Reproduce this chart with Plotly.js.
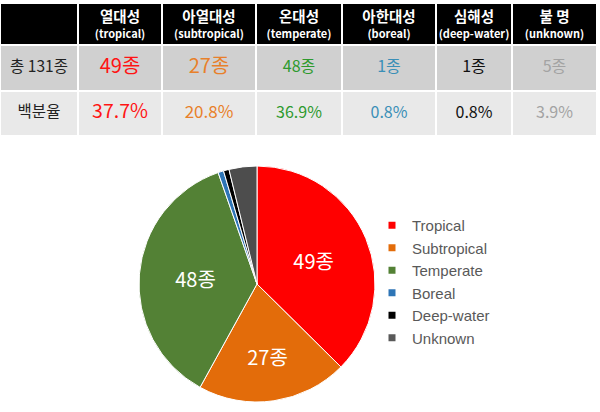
<!DOCTYPE html>
<html>
<head>
<meta charset="utf-8">
<script src="https://cdn.plot.ly/plotly-3.0.1.min.js"></script>
<style>html,body{margin:0;padding:0;background:#fff;}#chart{width:600px;height:412px;}</style>
</head>
<body>
<div id="chart"></div>
<script>
// ---- data ----
var categoriesKo = ['열대성', '아열대성', '온대성', '아한대성', '심해성', '불 명'];
var categoriesEn = ['tropical', 'subtropical', 'temperate', 'boreal', 'deep-water', 'unknown'];
var legendLabels = ['Tropical', 'Subtropical', 'Temperate', 'Boreal', 'Deep-water', 'Unknown'];
var counts = [49, 27, 48, 1, 1, 5];
var percents = ['37.7', '20.8', '36.9', '0.8', '0.8', '3.9'];
var totalLabel = '총 131종';
var percentLabel = '백분율';
var unit = '종';

// ---- styles ----
var sliceColors = ['#FF0000', '#E36C0A', '#538135', '#2E75B6', '#000000', '#4D4D4D'];
var legendColors = ['#FF0000', '#E36C0A', '#538135', '#2E75B6', '#000000', '#595959'];
var textColors = ['#FF1414', '#E8802A', '#2E9A2E', '#3A8FB7', '#111111', '#A3A3A3'];
var countSizes = [20, 20, 16, 16, 16, 16];
var pctSizes = [19.5, 17, 16, 16, 16, 16];
var firstColSize = 15.5;
var colWidths = [78, 84, 94, 86, 94, 76, 85];
var rowHeights = [42, 46, 45];
var rowFills = ['#000000', '#D0D0D0', '#E9E9E9'];
var headerTextShift = 2.5;
var KR = '"Noto Sans CJK KR", "Noto Sans", sans-serif';

function edges(w) { var e = [0]; w.forEach(function (v) { e.push(e[e.length - 1] + v); }); return e; }
var xEdges = edges(colWidths), yEdges = edges(rowHeights);
function mid(e, i) { return (e[i] + e[i + 1]) / 2; }

// table background cells (heatmap)
var zRows = rowHeights.map(function (h, r) { return colWidths.map(function () { return r; }); });
var cellGrid = {
  type: 'heatmap', x: xEdges, y: yEdges, z: zRows, zmin: 0, zmax: 2,
  colorscale: [[0, rowFills[0]], [0.5, rowFills[1]], [1, rowFills[2]]],
  xgap: 2, ygap: 2, showscale: false, hoverinfo: 'skip', showlegend: false
};

// header texts
var headerText = {
  type: 'scatter', mode: 'text', showlegend: false, hoverinfo: 'skip', cliponaxis: false,
  x: categoriesKo.map(function (k, i) { return mid(xEdges, i + 1); }),
  y: categoriesKo.map(function () { return mid(yEdges, 0) + headerTextShift; }),
  text: categoriesKo.map(function (k, i) {
    return '<span style="font-size:14.5px">' + k + '</span><br><span style="font-size:11px">(' + categoriesEn[i] + ')</span>';
  }),
  textposition: 'middle center',
  textfont: {family: KR, size: 12.5, color: '#FFFFFF', weight: 'bold'}
};

// body texts
var bx = [], by = [], bt = [], bc = [], bs = [];
bx.push(mid(xEdges, 0), mid(xEdges, 0)); by.push(mid(yEdges, 1), mid(yEdges, 2));
bt.push(totalLabel, percentLabel); bc.push('#222222', '#222222'); bs.push(firstColSize, firstColSize);
counts.forEach(function (c, i) {
  bx.push(mid(xEdges, i + 1)); by.push(mid(yEdges, 1)); bt.push(c + unit); bc.push(textColors[i]); bs.push(countSizes[i]);
  bx.push(mid(xEdges, i + 1)); by.push(mid(yEdges, 2)); bt.push(percents[i] + '%'); bc.push(textColors[i]); bs.push(pctSizes[i]);
});
var bodyText = {
  type: 'scatter', mode: 'text', showlegend: false, hoverinfo: 'skip', cliponaxis: false,
  x: bx, y: by, text: bt, textposition: 'middle center',
  textfont: {family: KR, size: bs, color: bc}
};

var pieText = counts.map(function (c) { return c > 5 ? c + unit : ''; });
var pie = {
  type: 'pie',
  values: counts,
  labels: legendLabels,
  text: pieText,
  textinfo: 'text',
  textposition: 'inside',
  insidetextorientation: 'horizontal',
  insidetextfont: {family: KR, size: 20, color: '#FFFFFF'},
  sort: false,
  direction: 'clockwise',
  rotation: 0,
  marker: {colors: sliceColors, line: {color: '#FFFFFF', width: 1}},
  domain: {x: [139 / 600, 375 / 600], y: [10 / 412, 246 / 412]},
  showlegend: false,
  hoverinfo: 'label+value'
};

var legendTraces = legendLabels.map(function (lab, i) {
  return {
    type: 'scatter', mode: 'markers', x: [null], y: [null], name: lab,
    marker: {symbol: 'square', size: 7, color: legendColors[i]},
    showlegend: true, hoverinfo: 'skip'
  };
});

var layout = {
  width: 600, height: 412,
  margin: {l: 0, r: 0, t: 0, b: 0},
  paper_bgcolor: '#FFFFFF', plot_bgcolor: 'rgba(0,0,0,0)',
  xaxis: {visible: false, domain: [0, 597 / 600], range: [0, xEdges[xEdges.length - 1]], fixedrange: true},
  yaxis: {visible: false, domain: [1 - 136 / 412, 1 - 3 / 412], range: [yEdges[yEdges.length - 1], 0], fixedrange: true},
  showlegend: true,
  legend: {
    x: 372 / 600, xanchor: 'left', y: 1 - 209 / 412, yanchor: 'top',
    font: {family: 'Liberation Sans, Arial, sans-serif', size: 15, color: '#595959'},
    bgcolor: 'rgba(0,0,0,0)', tracegroupgap: 0
  }
};

Plotly.newPlot('chart', [cellGrid, headerText, bodyText, pie].concat(legendTraces), layout, {staticPlot: true, displayModeBar: false});
</script>
</body>
</html>
